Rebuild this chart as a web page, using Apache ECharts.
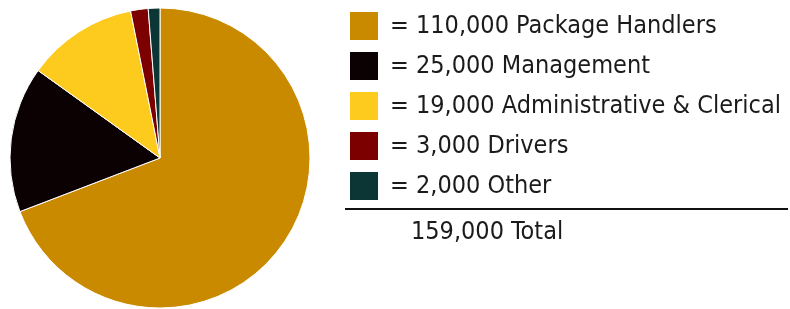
<!DOCTYPE html>
<html>
<head>
<meta charset="utf-8">
<script src="https://cdn.jsdelivr.net/npm/echarts@6/dist/echarts.min.js"></script>
<style>
  html, body { margin: 0; padding: 0; background: #fff; }
  #main { width: 790px; height: 309px; }
</style>
</head>
<body>
<div id="main"></div>
<script>
const categories = ['Package Handlers', 'Management', 'Administrative & Clerical', 'Drivers', 'Other'];
const employees = [110000, 25000, 19000, 3000, 2000];
const colors = ['#CA8A00', '#0B0103', '#FCCB1E', '#7C0000', '#0C3636'];

const fontFamily = "'DejaVu Sans Condensed', 'Liberation Sans Narrow', sans-serif";
const fmt = v => v.toLocaleString('en-US');
const total = employees.reduce((a, b) => a + b, 0);

const chart = echarts.init(document.getElementById('main'), null, { renderer: 'canvas' });

const option = {
  animation: false,
  color: colors,
  legend: {
    orient: 'vertical',
    left: 345,
    top: 7,
    itemWidth: 28,
    itemHeight: 28,
    itemGap: 12,
    icon: 'rect',
    selectedMode: false,
    itemStyle: { borderWidth: 0 },
    data: categories,
    formatter: function (name) {
      const i = categories.indexOf(name);
      return '= ' + fmt(employees[i]) + ' ' + name;
    },
    textStyle: {
      fontFamily,
      fontSize: 25,
      lineHeight: 28,
      color: '#1b1b1b',
      padding: [0, 0, 0, 7]
    }
  },
  graphic: [
    {
      type: 'line',
      shape: { x1: 345, y1: 209, x2: 788, y2: 209 },
      style: { stroke: '#111', lineWidth: 2 }
    },
    {
      type: 'text',
      left: 411,
      top: 220,
      style: {
        text: fmt(total) + ' Total',
        font: '25px ' + fontFamily,
        fill: '#1b1b1b'
      }
    }
  ],
  series: [{
    type: 'pie',
    center: [160, 158],
    radius: 150,
    startAngle: 90,
    clockwise: true,
    label: { show: false },
    labelLine: { show: false },
    emphasis: { disabled: true },
    itemStyle: { borderColor: '#fff', borderWidth: 1 },
    data: categories.map((c, i) => ({ name: c, value: employees[i] }))
  }]
};

chart.setOption(option);
</script>
</body>
</html>
